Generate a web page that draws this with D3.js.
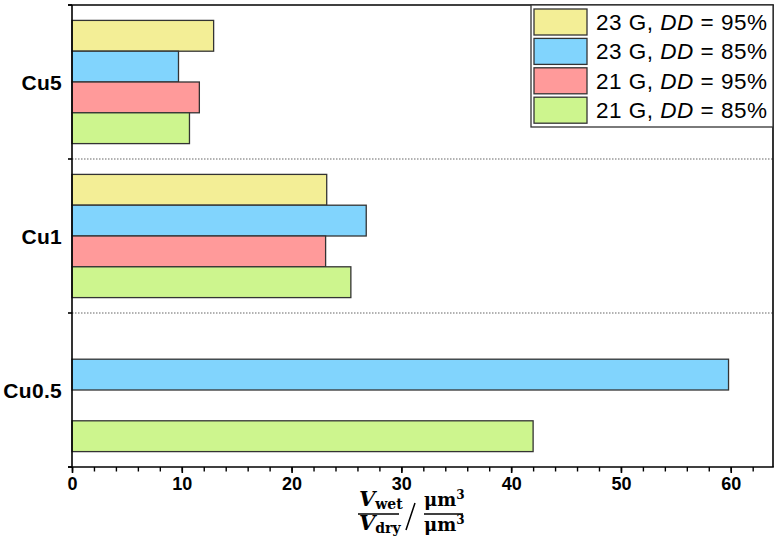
<!DOCTYPE html>
<html>
<head>
<meta charset="utf-8">
<script src="https://cdn.jsdelivr.net/npm/d3@7"></script>
<style>
  body { margin: 0; background: #fff; }
  svg { display: block; }
</style>
</head>
<body>
<div id="chart"></div>
<script>
// categories from top to bottom
var categories = ["Cu5", "Cu1", "Cu0.5"];
var seriesNames = ["23 G, DD = 95%", "23 G, DD = 85%", "21 G, DD = 95%", "21 G, DD = 85%"];
var seriesGauge = ["23 G, ", "23 G, ", "21 G, ", "21 G, "];
var seriesDD = [" = 95%", " = 85%", " = 95%", " = 85%"];
var seriesColors = ["#f3ee96", "#81d4fd", "#ff9a9a", "#cdf58e"];
// values per series, in category order (null = not measured)
var g23dd95 = [12.9, 23.2, null];
var g23dd85 = [9.7, 26.8, 59.8];
var g21dd95 = [11.6, 23.1, null];
var g21dd85 = [10.7, 25.4, 42.0];
var seriesValues = [g23dd95, g23dd85, g21dd95, g21dd85];
var xTicks = [0, 10, 20, 30, 40, 50, 60];

var width = 778, height = 546;
var pLeft = 72, pRight = 773, pTop = 5, pBottom = 467;

var svg = d3.select("#chart").append("svg")
    .attr("width", width)
    .attr("height", height);

var x = d3.scaleLinear().domain([0, 63.85]).range([pLeft, pRight]);
var y = d3.scaleBand().domain(categories).range([pTop, pBottom]).padding(0);
var ySub = d3.scaleBand().domain(d3.range(seriesNames.length))
    .range([0, y.bandwidth()]).paddingInner(0).paddingOuter(0.5);

// dotted separators between categories
svg.append("g").selectAll("line")
    .data(categories.slice(1))
    .enter().append("line")
    .attr("x1", pLeft).attr("x2", pRight)
    .attr("y1", function (d) { return y(d); })
    .attr("y2", function (d) { return y(d); })
    .attr("stroke", "#999")
    .attr("stroke-width", 1.3)
    .attr("stroke-dasharray", "1.5,1.5");

// bars
var rows = [];
seriesValues.forEach(function (vals, s) {
  vals.forEach(function (v, c) {
    if (v != null) rows.push({ s: s, cat: categories[c], v: v });
  });
});

svg.append("g").selectAll("rect")
    .data(rows)
    .enter().append("rect")
    .attr("x", x(0))
    .attr("y", function (d) { return y(d.cat) + ySub(d.s); })
    .attr("width", function (d) { return x(d.v) - x(0); })
    .attr("height", ySub.bandwidth())
    .attr("fill", function (d) { return seriesColors[d.s]; })
    .attr("stroke", "#333")
    .attr("stroke-width", 1.3);

// frame: top and right
svg.append("line").attr("x1", pLeft - 4).attr("x2", pRight + 0.8)
    .attr("y1", pTop).attr("y2", pTop)
    .attr("stroke", "#000").attr("stroke-width", 1.6);
svg.append("line").attr("x1", pRight).attr("x2", pRight)
    .attr("y1", pTop).attr("y2", pBottom)
    .attr("stroke", "#000").attr("stroke-width", 1.6);

// x axis: minor ticks every 2, labelled majors every 10
var xAxis = svg.append("g").attr("transform", "translate(0," + pBottom + ")");
xAxis.call(d3.axisBottom(x).tickValues(d3.range(0, 64, 2)).tickSize(4.5).tickFormat(""));
xAxis.call(function (g) {
  g.select(".domain").remove();
  g.selectAll(".tick line").attr("stroke", "#000").attr("stroke-width", 1.4);
});
var xMajor = svg.append("g").attr("transform", "translate(0," + pBottom + ")");
xMajor.call(d3.axisBottom(x).tickValues(xTicks).tickSize(6).tickPadding(4).tickFormat(d3.format("d")));
xMajor.call(function (g) {
  g.select(".domain").remove();
  g.selectAll(".tick line").attr("stroke", "#000").attr("stroke-width", 1.6);
  g.selectAll(".tick text")
    .attr("fill", "#000")
    .style("font-family", "'Liberation Sans', Arial, sans-serif")
    .style("font-size", "18px")
    .style("font-weight", "bold");
});
svg.append("line").attr("x1", pLeft - 4).attr("x2", pRight + 0.8)
    .attr("y1", pBottom).attr("y2", pBottom)
    .attr("stroke", "#000").attr("stroke-width", 1.6);

// y axis: ticks at category boundaries, labels at centres
var bounds = categories.map(function (c) { return y(c); }).concat([pBottom]);
svg.append("g").selectAll("line")
    .data(bounds)
    .enter().append("line")
    .attr("x1", pLeft - 4).attr("x2", pLeft)
    .attr("y1", function (d) { return d; })
    .attr("y2", function (d) { return d; })
    .attr("stroke", "#000").attr("stroke-width", 1.6);
svg.append("line").attr("x1", pLeft).attr("x2", pLeft)
    .attr("y1", pTop).attr("y2", pBottom + 1)
    .attr("stroke", "#000").attr("stroke-width", 1.6);

svg.append("g").selectAll("text")
    .data(categories)
    .enter().append("text")
    .attr("x", pLeft - 10)
    .attr("y", function (d) { return y(d) + y.bandwidth() / 2; })
    .attr("dy", "0.36em")
    .attr("text-anchor", "end")
    .style("font-family", "'Liberation Sans', Arial, sans-serif")
    .style("font-size", "21px")
    .style("letter-spacing", "0.3px")
    .style("font-weight", "bold")
    .text(function (d) { return d; });

// legend
var lg = svg.append("g");
lg.append("rect")
    .attr("x", 531).attr("y", pTop)
    .attr("width", pRight - 531).attr("height", 122)
    .attr("fill", "#fff").attr("stroke", "#333").attr("stroke-width", 1.3);
var items = lg.selectAll("g.item")
    .data(seriesNames)
    .enter().append("g")
    .attr("class", "item")
    .attr("transform", function (d, i) { return "translate(534," + (9 + i * 29.4) + ")"; });
items.append("rect")
    .attr("width", 53).attr("height", 26)
    .attr("fill", function (d, i) { return seriesColors[i]; })
    .attr("stroke", "#333").attr("stroke-width", 1.3);
var lt = items.append("text")
    .attr("x", 62).attr("y", 21)
    .style("font-family", "'Liberation Sans', Arial, sans-serif")
    .style("font-size", "22.5px")
    .style("letter-spacing", "0.5px")
    .attr("fill", "#000");
lt.append("tspan").text(function (d, i) { return seriesGauge[i]; });
lt.append("tspan").style("font-style", "italic").text("DD");
lt.append("tspan").text(function (d, i) { return seriesDD[i]; });

// x axis title: (V_wet / V_dry) / (µm³ / µm³)
var serif = "'DejaVu Serif', 'Liberation Serif', serif";
var tt = svg.append("g").attr("fill", "#000");
function vText(yb, sub) {
  var t = tt.append("text").attr("x", 359).attr("y", yb)
      .style("font-family", serif).style("font-weight", "bold");
  t.append("tspan").style("font-style", "italic").style("font-size", "21px").text("V");
  t.append("tspan").attr("dy", 3).style("font-size", "14px").text(sub);
}
vText(506, "wet");
vText(530, "dry");
tt.append("line").attr("x1", 358).attr("x2", 399).attr("y1", 514).attr("y2", 514)
    .attr("stroke", "#000").attr("stroke-width", 1.5);
tt.append("line").attr("x1", 415).attr("x2", 406).attr("y1", 503).attr("y2", 530)
    .attr("stroke", "#000").attr("stroke-width", 1.5);
function uText(yb) {
  var t = tt.append("text").attr("x", 424).attr("y", yb)
      .style("font-family", serif).style("font-weight", "bold").style("font-size", "18px");
  t.append("tspan").text("\u03bcm");
  t.append("tspan").attr("dy", -7).style("font-size", "12px").text("3");
}
uText(506);
uText(531);
tt.append("line").attr("x1", 424).attr("x2", 463).attr("y1", 514).attr("y2", 514)
    .attr("stroke", "#000").attr("stroke-width", 1.5);
</script>
</body>
</html>
